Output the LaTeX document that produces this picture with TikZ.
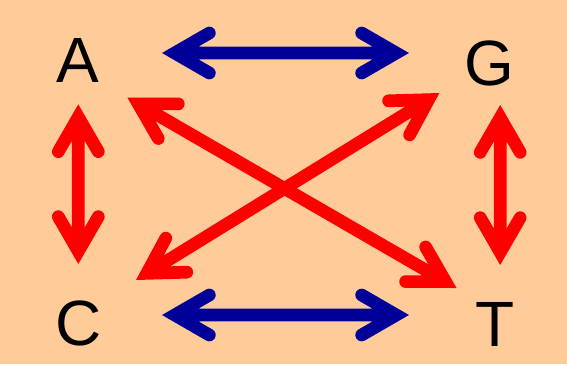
\documentclass[tikz,border=0pt]{standalone}
\usepackage{fontspec}
\setmainfont{Liberation Sans}
\usetikzlibrary{calc}
\definecolor{bgpeach}{HTML}{FFCC99}
\definecolor{arrblue}{HTML}{000099}
\definecolor{arrred}{HTML}{FF0000}
\tikzset{
  base letter/.style={anchor=base, inner sep=0pt, font=\fontsize{64}{64}\selectfont, text=black},
  dblarrow/.style={line width=12.7pt, line cap=round, line join=miter, miter limit=10},
  bluearrow/.style={dblarrow, draw=arrblue},
  redarrow/.style={dblarrow, draw=arrred},
}
% #1 style, #2 first tip, #3 second tip
\newcommand\mydblarr[3]{%
  \path ($(#2)!12.7pt!(#3)$) coordinate (v1) ($(#3)!12.7pt!(#2)$) coordinate (v2);
  \draw[#1] ($(v1)!40pt!30:(v2)$) -- (v1) -- ($(v1)!40pt!-30:(v2)$)
            (v1) -- (v2)
            ($(v2)!40pt!30:(v1)$) -- (v2) -- ($(v2)!40pt!-30:(v1)$);
}
\begin{document}
\begin{tikzpicture}[x=1pt,y=-1pt]
  \fill[bgpeach] (0,0) rectangle (567,364);
  \useasboundingbox (0,0) rectangle (567,364);
  % letters
  \node[base letter] (A) at (78,82.5) {A};
  \node[base letter] (G) at (489,85.8) {G};
  \node[base letter] (C) at (79,345.5) {C};
  \node[base letter] (T) at (495,346.5) {T};
  % arrow tip coordinates
  \coordinate (AGa) at (162,53);
  \coordinate (AGb) at (409,53);
  \coordinate (CTa) at (162,315);
  \coordinate (CTb) at (409,315);
  \coordinate (ACa) at (78.3,104.3);
  \coordinate (ACb) at (78.3,264);
  \coordinate (GTa) at (500.2,105);
  \coordinate (GTb) at (500.2,265);
  \coordinate (ATa) at (127.3,97.5);
  \coordinate (ATb) at (456.6,288);
  \coordinate (CGa) at (136,280);
  \coordinate (CGb) at (439.4,93);
  % arrows
  \mydblarr{bluearrow}{AGa}{AGb}
  \mydblarr{bluearrow}{CTa}{CTb}
  \mydblarr{redarrow}{ACa}{ACb}
  \mydblarr{redarrow}{GTa}{GTb}
  \mydblarr{redarrow}{ATa}{ATb}
  \mydblarr{redarrow}{CGa}{CGb}
\end{tikzpicture}
\end{document}
